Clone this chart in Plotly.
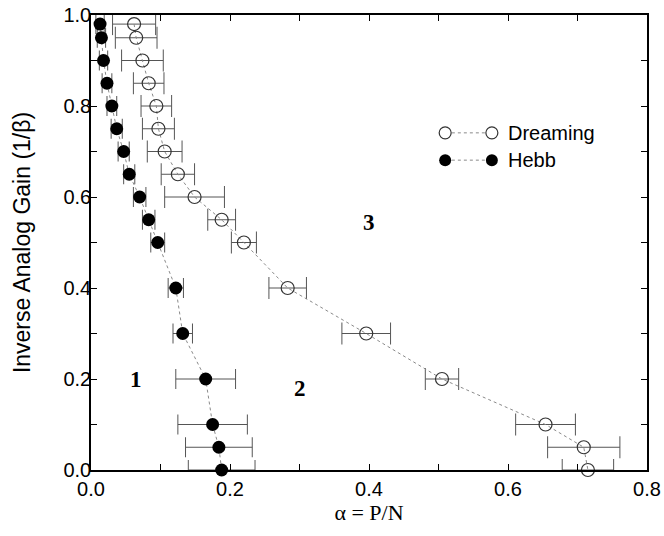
import plotly.graph_objects as go

# Inverse analog gain levels (1/beta) at which capacity was measured
gain = [0.98, 0.95, 0.90, 0.85, 0.80, 0.75, 0.70, 0.65, 0.60,
        0.55, 0.50, 0.40, 0.30, 0.20, 0.10, 0.05, 0.0]

# Hebb rule: critical storage ratio alpha = P/N and its spread
hebb_alpha = [0.013, 0.015, 0.018, 0.023, 0.030, 0.037, 0.047, 0.055, 0.070,
              0.083, 0.096, 0.122, 0.132, 0.165, 0.175, 0.184, 0.188]
hebb_err = [0.006, 0.006, 0.006, 0.007, 0.007, 0.008, 0.008, 0.008, 0.009,
            0.009, 0.010, 0.011, 0.014, 0.043, 0.050, 0.048, 0.048]

# Dreaming (unlearning) rule
dream_alpha = [0.062, 0.065, 0.074, 0.083, 0.094, 0.097, 0.106, 0.125, 0.149,
               0.188, 0.220, 0.283, 0.396, 0.505, 0.654, 0.709, 0.715]
dream_err = [0.031, 0.030, 0.030, 0.022, 0.022, 0.023, 0.025, 0.024, 0.043,
             0.020, 0.018, 0.027, 0.035, 0.024, 0.043, 0.052, 0.037]

# Phase-region labels
region_text = ["1", "2", "3"]
region_x = [0.065, 0.30, 0.40]
region_y = [0.20, 0.18, 0.545]

x_ticks = [0.0, 0.2, 0.4, 0.6, 0.8]
y_ticks = [0.0, 0.2, 0.4, 0.6, 0.8, 1.0]

SANS = "Liberation Sans, Arial, sans-serif"
SERIF = "Liberation Serif, Times New Roman, serif"

fig = go.Figure()

fig.add_trace(go.Scatter(
    x=dream_alpha, y=gain, mode="lines+markers", name="Dreaming",
    line=dict(color="#8a8a8a", width=1, dash="dot"),
    marker=dict(symbol="circle-open", size=13, color="#333333",
                line=dict(width=1.2, color="#333333")),
    error_x=dict(type="data", array=dream_err, visible=True,
                 color="#555555", thickness=1, width=11),
    cliponaxis=False, showlegend=False,
))

fig.add_trace(go.Scatter(
    x=hebb_alpha, y=gain, mode="lines+markers", name="Hebb",
    line=dict(color="#8a8a8a", width=1, dash="dot"),
    marker=dict(symbol="circle", size=13, color="black"),
    error_x=dict(type="data", array=hebb_err, visible=True,
                 color="#555555", thickness=1, width=10),
    cliponaxis=False, showlegend=False,
))

for t, x, y in zip(region_text, region_x, region_y):
    fig.add_annotation(x=x, y=y, text=f"<b>{t}</b>", showarrow=False,
                       font=dict(family=SERIF, size=23, color="black"))

# Hand-drawn key: marker, dotted line, marker, label
key_rows = [("Dreaming", 0.741, "open"), ("Hebb", 0.681, "filled")]
x_left, x_right, x_text = 0.637, 0.721, 0.746
for label, ky, style in key_rows:
    fig.add_shape(type="line", xref="paper", yref="paper",
                  x0=x_left + 0.012, x1=x_right - 0.012, y0=ky, y1=ky,
                  line=dict(color="#8a8a8a", width=1, dash="dot"))
    for kx in (x_left, x_right):
        fig.add_shape(type="circle", xref="paper", yref="paper",
                      xsizemode="pixel", ysizemode="pixel",
                      xanchor=kx, yanchor=ky, x0=-6, x1=6, y0=-6, y1=6,
                      line=dict(color="#333333", width=1.2 if style == "open" else 0),
                      fillcolor="rgba(0,0,0,0)" if style == "open" else "black")
    fig.add_annotation(xref="paper", yref="paper", x=x_text, y=ky,
                       text=label, showarrow=False, xanchor="left",
                       yanchor="middle",
                       font=dict(family=SANS, size=20, color="black"))

axis_common = dict(
    showgrid=False, zeroline=False, showline=True, linecolor="black",
    linewidth=1.5, mirror="allticks", ticks="inside", ticklen=6,
    tickcolor="black", tickwidth=1, automargin=False,
    tickfont=dict(family=SANS, size=20, color="black"),
    minor=dict(ticks="inside", ticklen=6, dtick=0.1, tickcolor="black"),
)

fig.update_xaxes(
    range=[0, 0.8], tickvals=x_ticks, ticktext=[f"{v:.1f}" for v in x_ticks],
    title=dict(text="α = P/N", font=dict(family=SERIF, size=22, color="black"),
               standoff=6),
    **axis_common,
)
fig.update_yaxes(
    range=[0, 1.0], tickvals=y_ticks, ticktext=[f"{v:.1f}" for v in y_ticks],
    ticklabelstandoff=-6,
    title=dict(text="Inverse Analog Gain (1/β)",
               font=dict(family=SANS, size=23, color="black"), standoff=26),
    **axis_common,
)

fig.update_layout(
    width=664, height=536,
    margin=dict(l=91, r=17, t=15, b=66),
    plot_bgcolor="white", paper_bgcolor="white",
)

fig.write_html("out.html")
